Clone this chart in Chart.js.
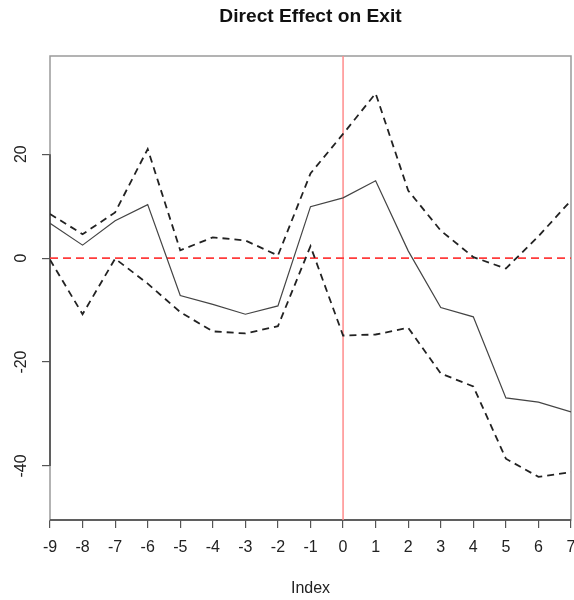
<!DOCTYPE html>
<html>
<head>
<meta charset="utf-8">
<script src="https://cdn.jsdelivr.net/npm/chart.js@4"></script>
<style>
  html, body { margin: 0; padding: 0; background: #fff; }
  #wrap { width: 574px; height: 600px; }
</style>
</head>
<body>
<div id="wrap"><canvas id="c" width="574" height="600"></canvas></div>
<script>
// ---- data ----
const index = [-9, -8, -7, -6, -5, -4, -3, -2, -1, 0, 1, 2, 3, 4, 5, 6, 7];
const estimate = [6.7, 2.5, 7.2, 10.3, -7.2, -8.9, -10.8, -9.2, 9.9, 11.6, 14.9, 1.4, -9.5, -11.3, -26.9, -27.7, -29.6];
const upper = [8.5, 4.6, 8.8, 21.0, 1.5, 4.0, 3.4, 0.5, 16.3, 23.9, 31.7, 13.0, 5.3, 0.2, -2.0, 4.2, 11.1];
const lower = [-0.3, -10.8, -0.1, -4.9, -10.4, -14.1, -14.5, -13.1, 2.3, -14.9, -14.7, -13.4, -22.2, -24.7, -38.6, -42.1, -41.2];
const xTicks = [-9, -8, -7, -6, -5, -4, -3, -2, -1, 0, 1, 2, 3, 4, 5, 6, 7];
const yTicks = [-40, -20, 0, 20];
const hLineY = 0;
const vLineX = 0;
const xRange = [-9, 7];
const yRange = [-50.4, 38.9];
const titleText = 'Direct Effect on Exit';
const xTitle = 'Index';

const toPts = arr => index.map((x, i) => ({ x: x, y: arr[i] }));
const FONT = "'Liberation Sans', Arial, Helvetica, sans-serif";

const boxPlugin = {
  id: 'rbox',
  beforeDatasetsDraw(chart) {
    const ctx = chart.ctx, a = chart.chartArea;
    const ys = chart.scales.y;
    ctx.save();
    ctx.lineWidth = 1.5;
    ctx.strokeStyle = '#9a9a9a';
    ctx.strokeRect(a.left, a.top, a.right - a.left, a.bottom - a.top);
    ctx.strokeStyle = '#444';
    ctx.beginPath();
    ctx.moveTo(a.left, ys.getPixelForValue(yTicks[0]));
    ctx.lineTo(a.left, ys.getPixelForValue(yTicks[yTicks.length - 1]));
    ctx.moveTo(a.left, a.bottom);
    ctx.lineTo(a.right, a.bottom);
    ctx.stroke();
    ctx.restore();
  },
  afterDraw(chart) {
    const ctx = chart.ctx, ys = chart.scales.y, a = chart.chartArea;
    ctx.save();
    ctx.font = '16px ' + FONT;
    ctx.fillStyle = '#222';
    ctx.textAlign = 'center';
    ctx.textBaseline = 'middle';
    yTicks.forEach(v => {
      const py = ys.getPixelForValue(v);
      ctx.save();
      ctx.translate(22, py);
      ctx.rotate(-Math.PI / 2);
      ctx.fillText(String(v), 0, 0);
      ctx.restore();
    });
    ctx.font = 'bold 19.2px ' + FONT;
    ctx.fillStyle = '#111';
    ctx.fillText(titleText, (a.left + a.right) / 2, 17);
    ctx.restore();
  }
};

new Chart(document.getElementById('c'), {
  type: 'line',
  data: {
    datasets: [
      { data: toPts(estimate), borderColor: '#444', borderWidth: 1.2, pointRadius: 0, tension: 0 },
      { data: toPts(upper), borderColor: '#222', borderWidth: 1.8, borderDash: [7, 5], pointRadius: 0, tension: 0 },
      { data: toPts(lower), borderColor: '#222', borderWidth: 1.8, borderDash: [7, 5], pointRadius: 0, tension: 0 },
      { data: [{ x: xRange[0], y: hLineY }, { x: xRange[1], y: hLineY }], borderColor: '#ff3b3b', borderWidth: 1.8, borderDash: [8, 5], pointRadius: 0 },
      { data: [{ x: vLineX, y: yRange[0] }, { x: vLineX, y: yRange[1] }], borderColor: '#ff8c8c', borderWidth: 1.5, pointRadius: 0 }
    ]
  },
  options: {
    responsive: false,
    animation: false,
    events: [],
    layout: { padding: { left: 0, right: 3, top: 56, bottom: 0 } },
    plugins: {
      legend: { display: false },
      tooltip: { enabled: false },
      title: { display: false }
    },
    scales: {
      x: {
        type: 'linear',
        min: xRange[0], max: xRange[1],
        afterBuildTicks: s => { s.ticks = xTicks.map(v => ({ value: v })); },
        afterFit: s => { s.height = 80; s.paddingLeft = 0; s.paddingRight = 0; },
        ticks: { color: '#222', font: { family: FONT, size: 16 }, padding: 10, autoSkip: false, maxRotation: 0, callback: v => String(v) },
        grid: { display: true, drawOnChartArea: false, drawTicks: true, tickLength: 8, color: '#555', lineWidth: 1.2 },
        border: { display: false },
        title: { display: true, text: xTitle, color: '#222', font: { family: FONT, size: 16 }, padding: { top: 0, bottom: 2 } }
      },
      y: {
        type: 'linear',
        min: yRange[0], max: yRange[1],
        afterBuildTicks: s => { s.ticks = yTicks.map(v => ({ value: v })); },
        afterFit: s => { s.width = 50; s.paddingTop = 0; s.paddingBottom = 0; },
        ticks: { display: false },
        grid: { display: true, drawOnChartArea: false, drawTicks: true, tickLength: 8, color: '#555', lineWidth: 1.2 },
        border: { display: false }
      }
    }
  },
  plugins: [boxPlugin]
});
</script>
</body>
</html>
